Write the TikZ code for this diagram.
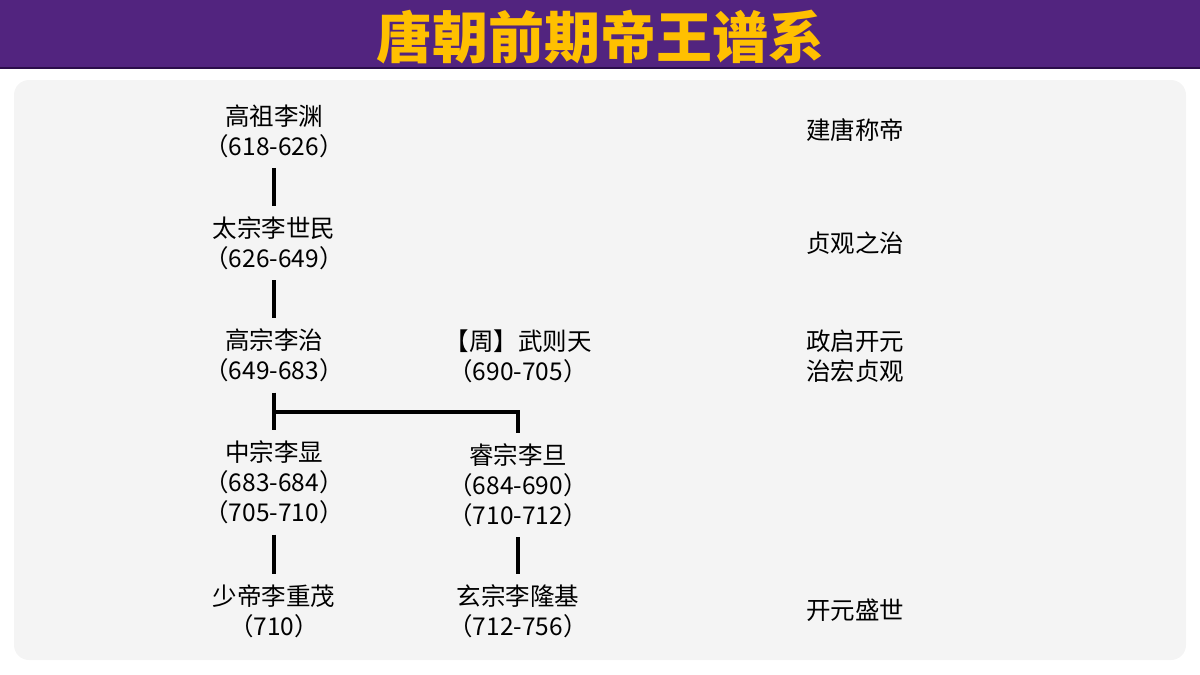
\documentclass[tikz,border=0pt]{standalone}
\usepackage{fontspec}
\setmainfont{Noto Sans CJK SC}
\usepackage{tikz}
\usetikzlibrary{calc}
\definecolor{bandpurple}{HTML}{52247F}
\definecolor{banddark}{HTML}{2B0D4A}
\definecolor{titlegold}{HTML}{FFC000}
\definecolor{panelgray}{HTML}{F4F4F4}
\tikzset{ruler/.style={align=center, inner sep=5pt, font=\fontsize{12.25}{15}\selectfont},
  link/.style={line width=2pt}}

\begin{document}
\begin{tikzpicture}[x=0.5pt,y=-0.5pt]
    \useasboundingbox (0,0) rectangle (1200,675);
    \fill [bandpurple] (0,0) rectangle (1200,68);
    \draw [banddark, line width=1pt] (0,68) -- (1200,68);
    \node [titlegold, font=\fontsize{28}{32}\selectfont\bfseries] (title) at (600,37) {唐朝前期帝王谱系};
    \fill [panelgray, rounded corners=7.5pt] (14,80) rectangle (1186,660);
    \node [ruler] (gaozu) at (274,131) {高祖李渊\\（618-626）};
    \node [ruler] (taizong) at (274,243) {太宗李世民\\（626-649）};
    \node [ruler] (gaozong) at (274,355.5) {高宗李治\\（649-683）};
    \node [ruler] (wuzetian) at (518,356.5) {【周】武则天\\（690-705）};
    \node [ruler] (zhongzong) at (274,482.5) {中宗李显\\（683-684）\\（705-710）};
    \node [ruler] (ruizong) at (518,485) {睿宗李旦\\（684-690）\\（710-712）};
    \node [ruler] (shaodi) at (274,611) {少帝李重茂\\（710）};
    \node [ruler] (xuanzong) at (518,611) {玄宗李隆基\\（712-756）};
    \node [ruler] (jiantang) at (855,130) {建唐称帝};
    \node [ruler] (zhenguan) at (855,243) {贞观之治};
    \node [ruler] (zhengqi) at (855,356) {政启开元\\治宏贞观};
    \node [ruler] (shengshi) at (855,610) {开元盛世};
    \draw [link] (gaozu) -- (taizong);
    \draw [link] (taizong) -- (gaozong);
    \draw [link] (gaozong) -- (zhongzong);
    \coordinate (fork) at ($(gaozong.south)!0.5!(zhongzong.north)$);
    \draw [link] (fork) -| (ruizong);
    \draw [link] (zhongzong) -- (shaodi);
    \draw [link] (ruizong) -- (xuanzong);
\end{tikzpicture}
\end{document}
